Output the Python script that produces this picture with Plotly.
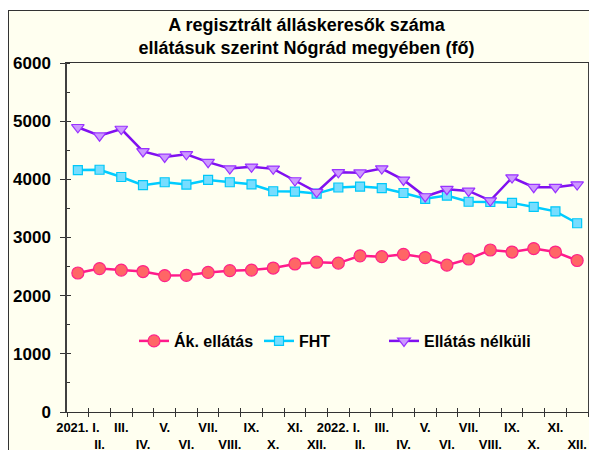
import plotly.graph_objects as go

months = ["2021. I.", "II.", "III.", "IV.", "V.", "VI.", "VII.", "VIII.", "IX.", "X.", "XI.", "XII.",
          "2022. I.", "II.", "III.", "IV.", "V.", "VI.", "VII.", "VIII.", "IX.", "X.", "XI.", "XII."]
ak_ellatas = [2390, 2465, 2440, 2415, 2345, 2350, 2400, 2430, 2440, 2475, 2545, 2575,
              2560, 2685, 2670, 2710, 2655, 2525, 2630, 2785, 2750, 2810, 2750, 2605]
fht = [4160, 4165, 4040, 3900, 3950, 3910, 3990, 3950, 3915, 3795, 3790, 3755,
       3860, 3875, 3850, 3765, 3665, 3720, 3615, 3610, 3595, 3525, 3450, 3245]
ellatas_nelkuli = [4895, 4750, 4865, 4480, 4385, 4430, 4295, 4185, 4215, 4180, 3980, 3780,
                   4120, 4115, 4185, 3990, 3705, 3830, 3800, 3635, 4030, 3865, 3865, 3910]

title_text = "A regisztrált álláskeresők száma<br>ellátásuk szerint Nógrád megyében (fő)"
y_ticks = [0, 1000, 2000, 3000, 4000, 5000, 6000]

x = list(range(len(months)))
ticktext = [m if i % 2 == 0 else "<br>" + m for i, m in enumerate(months)]

# the page body has an 8px default margin, so the figure starts at (8, 8)
OFF = 8
W, H = 597 - OFF, 450 - OFF
L, R, T, B = 67 - OFF, 588 - OFF, 63 - OFF, 412 - OFF

def px(xs):  # screen x -> paper
    return (xs - OFF - L) / (R - L)

def py(ys):  # screen y -> paper
    return (B - (ys - OFF)) / (B - T)

BG = "#FFFFF0"
FONT = "Liberation Sans, Arial, sans-serif"

fig = go.Figure()
fig.add_trace(go.Scatter(
    x=x, y=ak_ellatas, name="Ák. ellátás", mode="lines+markers", legend="legend",
    line=dict(color="#FF1A8C", width=2.5),
    marker=dict(symbol="circle", size=12, color="#FF6666", line=dict(color="#FF2288", width=1.2))))
fig.add_trace(go.Scatter(
    x=x, y=fht, name="FHT", mode="lines+markers", legend="legend2",
    line=dict(color="#00CCFF", width=2.5),
    marker=dict(symbol="square", size=9, color="#77DDFF", line=dict(color="#00C8F8", width=1.2))))
fig.add_trace(go.Scatter(
    x=x, y=ellatas_nelkuli, name="Ellátás nélküli", mode="lines+markers", legend="legend3",
    line=dict(color="#8010F0", width=2.5),
    marker=dict(symbol="triangle-down", size=11, color="#CC99FF", line=dict(color="#9933FF", width=1.2))))

bounds = [i - 0.5 for i in range(len(months) + 1)]

def leg(xs):
    return dict(orientation="h", x=px(xs), y=py(341), xanchor="left", yanchor="middle",
                bgcolor="rgba(0,0,0,0)", font=dict(family=FONT, size=16, weight="bold"),
                itemwidth=30)

fig.update_layout(
    width=W, height=H,
    margin=dict(l=L, r=W - R, t=T, b=H - B, pad=0),
    paper_bgcolor=BG, plot_bgcolor=BG,
    font=dict(family=FONT, color="#000000", weight="bold"),
    title=dict(text=title_text, x=0.5 + 4 / W, xref="container", xanchor="center",
               y=1 - 23 / H, yref="container", yanchor="top",
               font=dict(family=FONT, size=18, color="#000000", weight="bold")),
    showlegend=True,
    legend=leg(134), legend2=leg(259), legend3=leg(384),
    xaxis=dict(range=[-0.5, len(months) - 0.5], tickmode="array", tickvals=x, ticktext=ticktext,
               tickangle=0, automargin=False,
               ticks="", showgrid=False, zeroline=False, showline=True, linecolor="#333333",
               linewidth=1, mirror=True, tickfont=dict(family=FONT, size=13, weight="bold"),
               ticklabelstandoff=3),
    xaxis2=dict(range=[-0.5, len(months) - 0.5], overlaying="x", anchor="y", side="bottom",
                tickmode="array", tickvals=bounds, ticks="outside", ticklen=4, tickcolor="#333333",
                automargin=False,
                showticklabels=False, showgrid=False, zeroline=False, showline=False),
    xaxis3=dict(range=[-0.5, len(months) - 0.5], overlaying="x", anchor="y", side="bottom",
                tickmode="array", tickvals=bounds, ticks="inside", ticklen=4, tickcolor="#333333",
                automargin=False,
                showticklabels=False, showgrid=False, zeroline=False, showline=False),
    yaxis=dict(range=[0, 6000], tickmode="array", tickvals=y_ticks, ticks="outside", ticklen=5,
               tickcolor="#333333", showgrid=False, zeroline=False, showline=True,
               linecolor="#404040", linewidth=1.5, mirror=True, automargin=False,
               tickfont=dict(family=FONT, size=17, weight="bold"), ticklabelstandoff=6,
               minor=dict(dtick=500, ticks="inside", ticklen=3, tickcolor="#333333")),
    yaxis2=dict(range=[0, 6000], overlaying="y", anchor="x", side="left", tickmode="array",
                tickvals=y_ticks, ticks="inside", ticklen=4, tickcolor="#333333", automargin=False,
                showticklabels=False, showgrid=False, zeroline=False, showline=False),
)

# invisible traces to activate overlay axes
fig.add_trace(go.Scatter(x=[None], y=[None], xaxis="x2", yaxis="y", showlegend=False, hoverinfo="skip"))
fig.add_trace(go.Scatter(x=[None], y=[None], xaxis="x3", yaxis="y2", showlegend=False, hoverinfo="skip"))

# white strip above the chart frame and the frame lines
fig.add_shape(type="rect", xref="paper", yref="paper", x0=px(-20), x1=px(620), y0=py(10), y1=py(-20),
              fillcolor="#FFFFFF", line=dict(width=0), layer="below")
fig.add_shape(type="line", xref="paper", yref="paper", x0=px(8.5), x1=px(8.5), y0=py(10), y1=py(480),
              line=dict(color="#333333", width=1))
fig.add_shape(type="line", xref="paper", yref="paper", x0=px(8), x1=px(620), y0=py(10.5), y1=py(10.5),
              line=dict(color="#333333", width=1))

fig.write_html("out.html")
